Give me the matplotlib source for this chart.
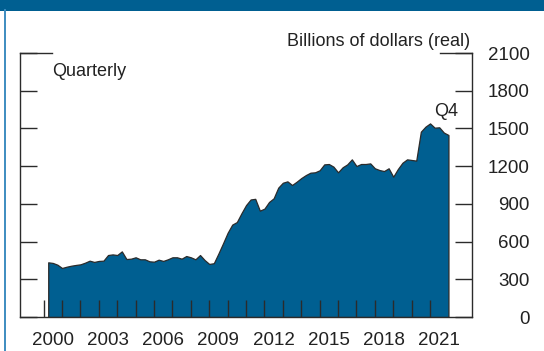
import numpy as np
import matplotlib.pyplot as plt
import matplotlib.transforms as mtransforms
from matplotlib.patches import Rectangle
from matplotlib.lines import Line2D

plt.rcParams['font.family'] = ['Liberation Sans', 'DejaVu Sans']

years = list(range(2000, 2022))
label_years = [2000, 2003, 2006, 2009, 2012, 2015, 2018, 2021]
y_ticks = [0, 300, 600, 900, 1200, 1500, 1800, 2100]

# quarterly values, one row per year (Q1..Q4)
v2000 = [435, 430, 416, 390]
v2001 = [400, 408, 414, 419]
v2002 = [432, 448, 438, 446]
v2003 = [448, 493, 498, 493]
v2004 = [522, 461, 464, 475]
v2005 = [459, 459, 443, 440]
v2006 = [456, 446, 459, 475]
v2007 = [475, 464, 485, 475]
v2008 = [459, 493, 453, 422]
v2009 = [428, 505, 586, 670]
v2010 = [735, 755, 825, 890]
v2011 = [935, 940, 846, 862]
v2012 = [915, 944, 1029, 1068]
v2013 = [1079, 1050, 1076, 1105]
v2014 = [1129, 1148, 1151, 1167]
v2015 = [1214, 1217, 1196, 1151]
v2016 = [1191, 1214, 1254, 1201]
v2017 = [1217, 1217, 1222, 1183]
v2018 = [1169, 1161, 1183, 1116]
v2019 = [1177, 1227, 1254, 1249]
v2020 = [1244, 1474, 1514, 1540]
v2021 = [1506, 1509, 1467, 1448]

rows = [v2000, v2001, v2002, v2003, v2004, v2005, v2006, v2007, v2008, v2009, v2010,
        v2011, v2012, v2013, v2014, v2015, v2016, v2017, v2018, v2019, v2020, v2021]
values = np.array([v for r in rows for v in r])
x = np.array([y + q / 4 for y in years for q in (1, 2, 3, 4)])

blue = '#005f91'
dark = '#2b2b2b'

fig = plt.figure(figsize=(5.44, 3.51), dpi=100)
ax = fig.add_axes([20 / 544, 34 / 351, 452 / 544, 264 / 351])

ax.fill_between(x, values, 0, color=blue, edgecolor=dark, linewidth=0.9, zorder=1)
ax.set_axisbelow(False)

ax.set_xlim(1998.717, 2023.28)
ax.set_ylim(0, 2100)

for s in ['left', 'right', 'bottom']:
    ax.spines[s].set_color(dark)
    ax.spines[s].set_linewidth(1.0)
ax.spines['top'].set_visible(False)

# x axis: ticks at year start, labels at mid-year
ax.set_xticks(years)
ax.set_xticklabels([])
ax.set_xticks([y + 0.5 for y in label_years], minor=True)
ax.set_xticklabels([str(y) for y in label_years], minor=True)
ax.tick_params(axis='x', which='major', direction='in', length=12, width=1.0, color=dark)
ax.tick_params(axis='x', which='minor', length=0, pad=10.5, labelsize=13.5, labelcolor='#222222')

# y axis: labels on right, ticks on both sides
ax.set_yticks(y_ticks)
ax.set_yticklabels([str(v) for v in y_ticks])
ax.tick_params(axis='y', which='major', direction='in', length=12, width=1.0, color=dark,
               left=True, right=True, labelleft=False, labelright=True,
               pad=41.5, labelsize=13.5, labelcolor='#222222')
for lbl in ax.get_yticklabels():
    lbl.set_horizontalalignment('right')

# longer tick at the top on both sides
trans = mtransforms.blended_transform_factory(ax.transAxes, ax.transData)
top_len = 32 / 452
ax.plot([0, top_len], [2100, 2100], color=dark, linewidth=1.0, transform=trans, clip_on=False)
ax.plot([1 - top_len, 1], [2100, 2100], color=dark, linewidth=1.0, transform=trans, clip_on=False)

fig.text(470 / 544, 1 - 46.5 / 351, 'Billions of dollars (real)', ha='right', va='baseline',
         fontsize=13, color='#222222')
fig.text(52 / 544, 1 - 76 / 351, 'Quarterly', ha='left', va='baseline',
         fontsize=13, color='#222222', family=['Liberation Sans Narrow', 'Liberation Sans'])
fig.text(446 / 544, 1 - 116 / 351, 'Q4', ha='center', va='baseline',
         fontsize=13, color='#222222', family=['Liberation Sans Narrow', 'Liberation Sans'])

# frame: top band and thin left rule
fig.add_artist(Rectangle((0, 1 - 10.5 / 351), 1, 10.5 / 351, transform=fig.transFigure,
                         color=blue, linewidth=0))
fig.add_artist(Line2D([5 / 544, 5 / 544], [0, 1 - 10 / 351], transform=fig.transFigure,
                      color='#3d8cc0', linewidth=1.4))

fig.savefig('out.png', dpi=100)
